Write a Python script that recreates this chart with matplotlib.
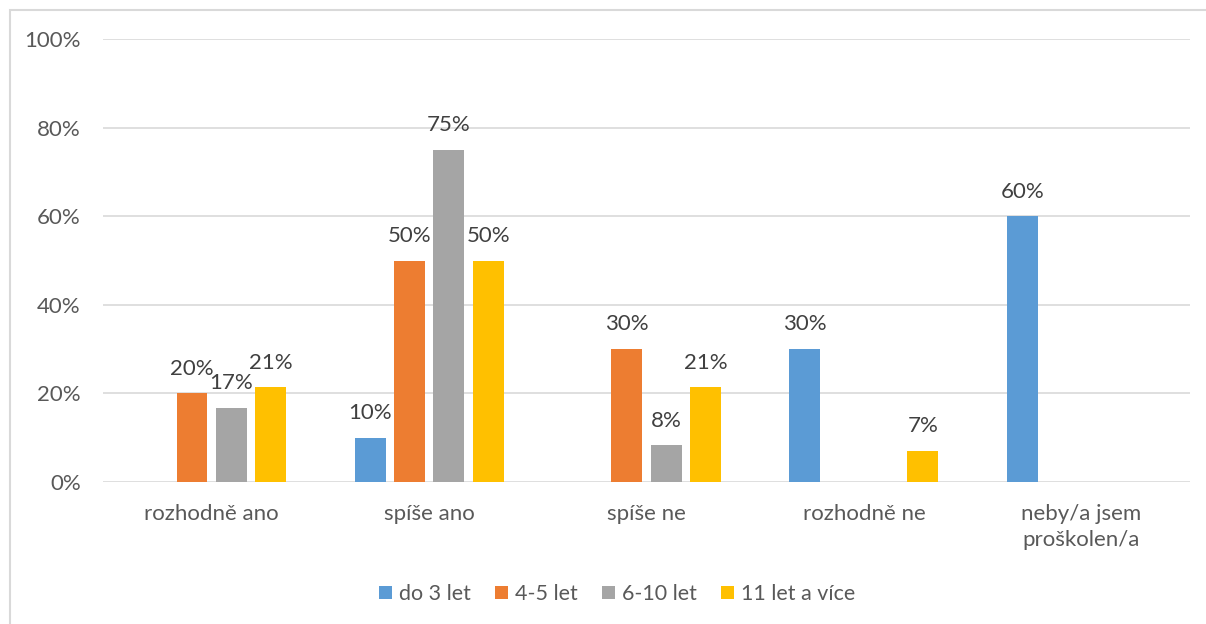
import numpy as np
import matplotlib.pyplot as plt
import matplotlib.patches as patches
from matplotlib.ticker import PercentFormatter

plt.rcParams['font.family'] = ['Lato', 'DejaVu Sans']

categories = ["rozhodně ano", "spíše ano", "spíše ne", "rozhodně ne", "neby/a jsem\nproškolen/a"]
series_names = ["do 3 let", "4-5 let", "6-10 let", "11 let a více"]
do_3_let = [0, 10, 0, 30, 60]
let_4_5 = [20, 50, 30, 0, 0]
let_6_10 = [16.7, 75, 8.3, 0, 0]
let_11_vice = [21.4, 50, 21.4, 7.1, 0]
colors = ["#5B9BD5", "#ED7D31", "#A5A5A5", "#FFC000"]

values = [do_3_let, let_4_5, let_6_10, let_11_vice]

fig = plt.figure(figsize=(12.06, 6.24), dpi=100)
ax = fig.add_axes([103 / 1206, 1 - 482 / 624, (1190 - 103) / 1206, (482 - 39) / 624])

# rámeček kolem celého grafu
fig.patches.append(patches.Rectangle(
    (10 / 1206, -0.1), 1.2, 1 - 10 / 624 + 0.1, transform=fig.transFigure,
    facecolor='none', edgecolor='#D9D9D9', linewidth=1.5
))

x = np.arange(len(categories))
pitch = 0.181
width = 0.142
for i, (name, vals, col) in enumerate(zip(series_names, values, colors)):
    pos = x + (i - 1.5) * pitch
    bars = ax.bar(pos, vals, width=width, color=col, label=name, zorder=3)
    for b, v in zip(bars, vals):
        if v > 0:
            ax.text(b.get_x() + b.get_width() / 2, v + 3.3, f"{v:.0f}%",
                    ha='center', va='bottom', fontsize=16, color='#404040')

ax.set_xlim(-0.5, len(categories) - 0.5)
ax.set_ylim(0, 100)
ax.set_yticks(range(0, 101, 20))
ax.yaxis.set_major_formatter(PercentFormatter(decimals=0))
ax.set_xticks(x)
ax.set_xticklabels(categories, fontsize=16, color='#595959', linespacing=1.35)
ax.tick_params(axis='y', labelsize=16, labelcolor='#595959', length=0, pad=16)
ax.tick_params(axis='x', length=0, pad=16)
ax.grid(axis='y', color='#D9D9D9', linewidth=1.2, zorder=0)
for s in ax.spines.values():
    s.set_visible(False)

leg = fig.legend(loc='center', bbox_to_anchor=(617 / 1206, 1 - 594 / 624), ncol=4,
                 frameon=False, fontsize=15.5, handlelength=0.6, handleheight=0.6,
                 handletextpad=0.3, columnspacing=1.15)
for t in leg.get_texts():
    t.set_color('#595959')

fig.savefig("out.png", dpi=100)
